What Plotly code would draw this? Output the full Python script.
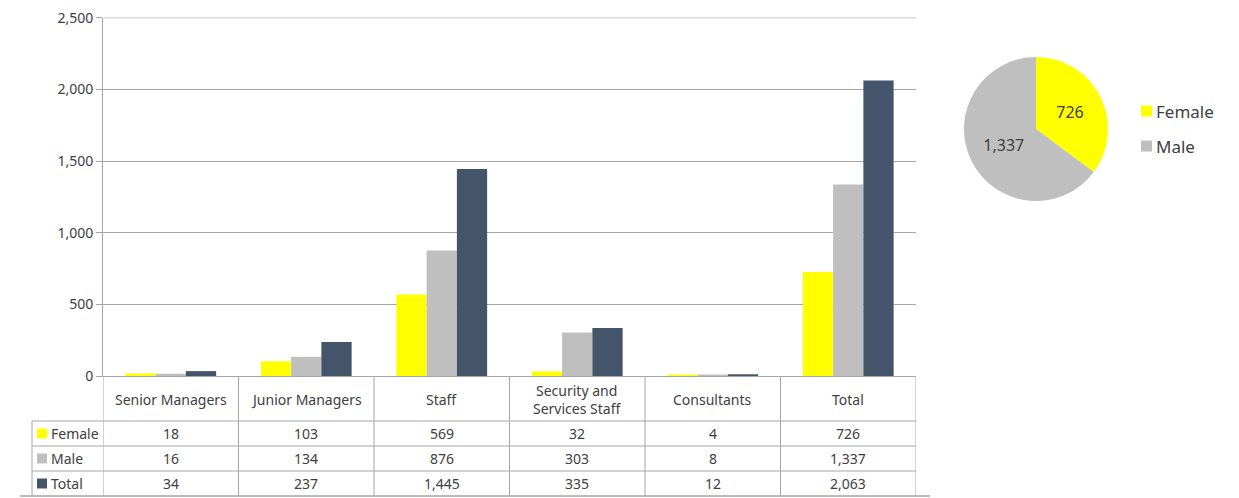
import plotly.graph_objects as go

categories = ['Senior Managers', 'Junior Managers', 'Staff', 'Security and Services Staff', 'Consultants', 'Total']
header_labels = ['Senior Managers', 'Junior Managers', 'Staff', 'Security and<br>Services Staff', 'Consultants', 'Total']
series_names = ['Female', 'Male', 'Total']
female = [18, 103, 569, 32, 4, 726]
male = [16, 134, 876, 303, 8, 1337]
total = [34, 237, 1445, 335, 12, 2063]
pie_labels = ['Female', 'Male']
pie_values = [726, 1337]
y_ticks = [0, 500, 1000, 1500, 2000, 2500]

colors = {'Female': '#FFFF00', 'Male': '#BFBFBF', 'Total': '#44546A'}
W, H = 1239, 498
OFF = 8  # page body margin
FONT = 'Noto Sans'
TXT = '#404040'
LINE = '#A6A6A6'


def px(p):
    return (p - OFF) / W


def py(p):
    return 1 - (p - OFF) / H


fig = go.Figure()

for name, vals in zip(series_names, [female, male, total]):
    fig.add_trace(go.Bar(
        x=categories,
        y=vals,
        name=name,
        marker_color=colors[name],
        marker_line_width=0,
        showlegend=False
    ))

fig.add_trace(go.Pie(
    labels=pie_labels,
    values=pie_values,
    marker=dict(colors=[colors[l] for l in pie_labels], line=dict(width=0)),
    sort=False,
    direction='clockwise',
    rotation=0,
    texttemplate='%{value:,}',
    textposition='inside',
    insidetextorientation='horizontal',
    textfont=dict(family=FONT, size=16, color=TXT),
    domain=dict(x=[px(964), px(1108)], y=[py(201), py(57)]),
    showlegend=False,
    hoverinfo='label+value'
))

shapes = []
annotations = []

# top gridline (sits on the edge of the axis range)
shapes.append(dict(type='line', xref='paper', yref='y', x0=px(103), x1=px(916),
                   y0=y_ticks[-1], y1=y_ticks[-1], line=dict(color=LINE, width=1), layer='below'))

# table grid
table_rows = [421, 446, 471, 496]
for i in range(len(categories) + 1):
    shapes.append(dict(type='line', xref='x', yref='paper', x0=i - 0.5, x1=i - 0.5,
                       y0=py(376), y1=py(496), line=dict(color=LINE, width=1)))
shapes.append(dict(type='line', xref='paper', yref='paper', x0=px(32), x1=px(32),
                   y0=py(421), y1=py(496), line=dict(color=LINE, width=1)))
for r in table_rows[:-1]:
    shapes.append(dict(type='line', xref='paper', yref='paper', x0=px(32), x1=px(916),
                       y0=py(r), y1=py(r), line=dict(color=LINE, width=1)))
shapes.append(dict(type='line', xref='paper', yref='paper', x0=px(20), x1=px(930),
                   y0=py(496), y1=py(496), line=dict(color=LINE, width=1.5)))

# header labels
for i, lab in enumerate(header_labels):
    annotations.append(dict(x=i, y=py(399), xref='x', yref='paper', text=lab,
                            xanchor='center', yanchor='middle', showarrow=False,
                            font=dict(family=FONT, size=14, color=TXT)))

# rows
for k, (name, vals) in enumerate(zip(series_names, [female, male, total])):
    top, bot = table_rows[k], table_rows[k + 1]
    mid = (top + bot) / 2
    shapes.append(dict(type='rect', xref='paper', yref='paper', x0=px(37), x1=px(47),
                       y0=py(mid + 5), y1=py(mid - 5), fillcolor=colors[name], line=dict(width=0)))
    annotations.append(dict(x=px(49), y=py(mid), xref='paper', yref='paper', text=name,
                            xanchor='left', yanchor='middle', showarrow=False,
                            font=dict(family=FONT, size=14, color=TXT)))
    for i, v in enumerate(vals):
        annotations.append(dict(x=i, y=py(mid), xref='x', yref='paper', text=f'{v:,}',
                                xanchor='center', yanchor='middle', showarrow=False,
                                font=dict(family=FONT, size=14, color=TXT)))

# pie legend
for k, lab in enumerate(pie_labels):
    yc = 111 + 35 * k
    shapes.append(dict(type='rect', xref='paper', yref='paper', x0=px(1141), x1=px(1152),
                       y0=py(yc + 5.5), y1=py(yc - 5.5), fillcolor=colors[lab], line=dict(width=0)))
    annotations.append(dict(x=px(1154), y=py(yc), xref='paper', yref='paper', text=lab,
                            xanchor='left', yanchor='middle', showarrow=False,
                            font=dict(family=FONT, size=17, color=TXT)))

fig.update_layout(
    width=W,
    height=H,
    autosize=False,
    margin=dict(l=0, r=0, t=0, b=0, pad=0, autoexpand=False),
    paper_bgcolor='white',
    plot_bgcolor='white',
    showlegend=False,
    barmode='group',
    bargap=0.33,
    bargroupgap=0,
    font=dict(family=FONT, color=TXT),
    xaxis=dict(
        domain=[px(103), px(916)],
        range=[-0.5, 5.5],
        showticklabels=False,
        showline=True,
        linecolor=LINE,
        showgrid=False,
        ticks='',
        automargin=False
    ),
    yaxis=dict(
        domain=[py(376), py(17.5)],
        range=[0, 2502],
        tickmode='array',
        tickvals=y_ticks,
        ticktext=[f'{v:,}' for v in y_ticks],
        ticklabeloverflow='allow',
        showgrid=True,
        gridcolor=LINE,
        showline=True,
        linecolor=LINE,
        ticks='outside',
        ticklen=6,
        tickcolor=LINE,
        tickfont=dict(family=FONT, size=14, color=TXT),
        zeroline=False,
        automargin=False
    ),
    shapes=shapes,
    annotations=annotations
)

fig.write_html("out.html")
